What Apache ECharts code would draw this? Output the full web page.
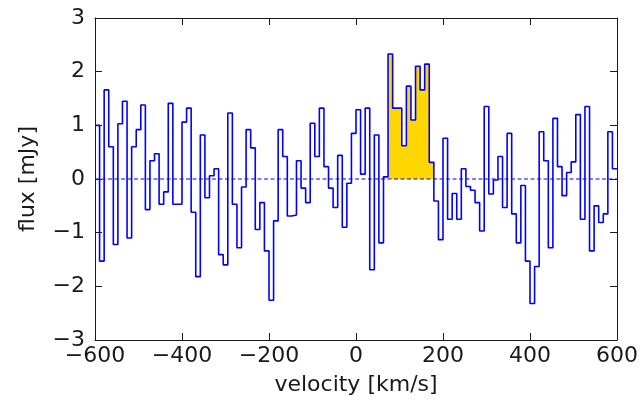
<!DOCTYPE html>
<html>
<head>
<meta charset="utf-8">
<script src="https://cdn.jsdelivr.net/npm/echarts@6/dist/echarts.min.js"></script>
<style>
html,body{margin:0;padding:0;background:#fff;}
#chart{width:641px;height:404px;}
</style>
</head>
<body>
<div id="chart"></div>
<script>
// Spectrum: channel start velocity, channel width (km/s) and flux per channel (mJy)
const velocityStart = -600;
const channelWidth = 600 / 57;
const flux = [
  1.00, -1.53, 1.66, 0.60, -1.22, 1.03, 1.45, -1.10, 0.60, 0.92,
  1.38, -0.57, 0.34, 0.47, -0.47, -0.24, 1.41, -0.47, -0.47, 1.06,
  1.32, -0.62, -1.82, 0.82, -0.35, 0.06, 0.19, -1.41, -1.60, 1.23,
  -0.47, -1.28, -0.15, 0.92, 0.58, -0.94, -0.44, -1.34, -2.26, -0.78,
  0.92, 0.42, -0.69, -0.67, 0.34, -0.17, -0.44, 1.04, 0.42, 1.32,
  0.23, -0.17, -0.53, 0.44, -0.90, -0.08, 0.85, 1.29, 0.09, 1.32,
  -1.69, 0.82, -1.19, 0.04, 2.33, 1.32, 1.32, 0.62, 1.73, 1.10,
  2.10, 1.66, 2.14, 0.31, -0.41, -1.13, 0.76, -0.75, -0.27, -0.75,
  0.19, -0.14, -0.21, -0.44, -0.97, 1.35, -0.28, -0.02, 0.42, -0.53,
  0.85, -0.65, -1.19, -0.12, -1.53, -2.32, -1.63, 0.88, 0.34, -1.28,
  1.13, 0.23, -0.31, 0.12, 0.32, 1.20, -0.75, 1.35, -1.34, -0.50,
  -0.81, -0.65, 0.88, 0.19
];
// Channels of the detected line (shaded), first and last index
const lineChannelFirst = 64;
const lineChannelLast = 73;
// Axes
const xMin = -600, xMax = 600, xStep = 200;
const yMin = -3, yMax = 3, yStep = 1;
const xTitle = 'velocity [km/s]';
const yTitle = 'flux [mJy]';

function edge(i) { return velocityStart + i * channelWidth; }
const stepData = flux.map((v, i) => [edge(i), v]);
stepData.push([edge(flux.length), flux[flux.length - 1]]);
const fillData = [];
for (let i = lineChannelFirst; i <= lineChannelLast; i++) fillData.push([edge(i), flux[i]]);
fillData.push([edge(lineChannelLast + 1), flux[lineChannelLast]]);

const font = 'DejaVu Sans';
const ink = '#1a1a1a';
const minus = v => String(v).replace('-', '\u2212');
const frameLine = { show: true, onZero: false, lineStyle: { color: ink, width: 1 } };
const tick = { show: true, inside: true, length: 7, lineStyle: { color: ink, width: 1 } };

const chart = echarts.init(document.getElementById('chart'), null, { renderer: 'canvas' });
chart.setOption({
  animation: false,
  backgroundColor: '#ffffff',
  grid: { left: 95, right: 21, top: 18, bottom: 64, containLabel: false },
  xAxis: [
    {
      type: 'value', min: xMin, max: xMax, interval: xStep, position: 'bottom',
      axisLine: frameLine, axisTick: tick, splitLine: { show: false },
      axisLabel: { show: true, margin: 5, fontFamily: font, fontSize: 22, color: ink, formatter: minus },
      name: xTitle, nameLocation: 'middle', nameGap: 34,
      nameTextStyle: { fontFamily: font, fontSize: 22, color: ink }
    },
    {
      type: 'value', min: xMin, max: xMax, interval: xStep, position: 'top',
      axisLine: frameLine, axisTick: tick, splitLine: { show: false }, axisLabel: { show: false }
    }
  ],
  yAxis: [
    {
      type: 'value', min: yMin, max: yMax, interval: yStep, position: 'left',
      axisLine: frameLine, axisTick: tick, splitLine: { show: false },
      axisLabel: { show: true, margin: 10, fontFamily: font, fontSize: 22, color: ink, formatter: minus },
      name: yTitle, nameLocation: 'middle', nameGap: 56, nameRotate: 90,
      nameTextStyle: { fontFamily: font, fontSize: 22, color: ink }
    },
    {
      type: 'value', min: yMin, max: yMax, interval: yStep, position: 'right',
      axisLine: frameLine, axisTick: tick, splitLine: { show: false }, axisLabel: { show: false }
    }
  ],
  series: [
    {
      type: 'line', data: fillData, step: 'end', symbol: 'none', z: 1,
      lineStyle: { width: 0 },
      areaStyle: { color: '#ffd700', opacity: 1, origin: 'auto' },
      silent: true
    },
    {
      type: 'line', data: [[xMin, 0], [xMax, 0]], symbol: 'none', z: 2,
      lineStyle: { color: '#0000ff', width: 1, type: [4, 2.5] },
      silent: true
    },
    {
      type: 'line', data: stepData, step: 'end', symbol: 'none', z: 3,
      lineStyle: { color: '#0000ff', width: 1.6 },
      silent: true
    }
  ]
});
</script>
</body>
</html>
